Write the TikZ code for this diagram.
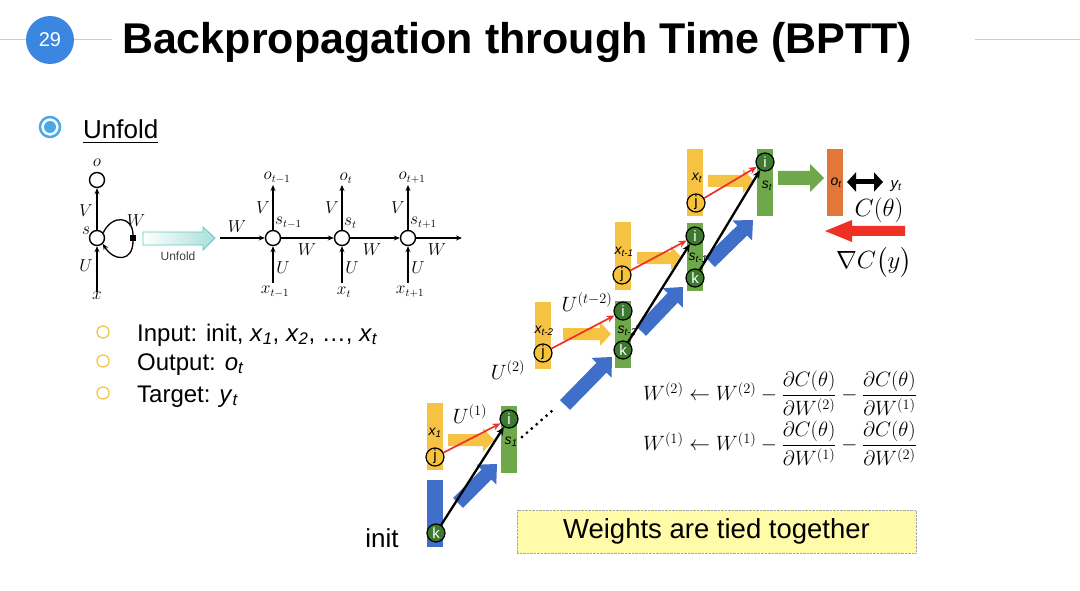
\documentclass[tikz,border=0pt]{standalone}
\usepackage{amsmath}
\usepackage{fontspec}
\setmainfont{Liberation Sans}
\usetikzlibrary{calc,arrows.meta}
\definecolor{cybar}{HTML}{F6C244}
\definecolor{cgbar}{HTML}{6FA84A}
\definecolor{cbbar}{HTML}{3F6FC9}
\definecolor{cobar}{HTML}{E2773A}
\definecolor{gcirc}{HTML}{3D7A2F}
\definecolor{ycirc}{HTML}{F5C23A}
\definecolor{numblue}{HTML}{3A86E0}
\definecolor{ringblue}{HTML}{4AA8E8}
\definecolor{arrred}{HTML}{EE3124}
\definecolor{unfteal}{HTML}{3FB8AE}
\definecolor{boxyellow}{HTML}{FFFBA8}
\newcommand\blockarrow[6]{%
  \fill[fill=#1] ($(#2)!#4!90:(#3)$) -- ($($(#3)!#6!(#2)$)!#4!90:(#3)$)
    -- ($($(#3)!#6!(#2)$)!#5!90:(#3)$) -- (#3)
    -- ($($(#3)!#6!(#2)$)!#5!-90:(#3)$) -- ($($(#3)!#6!(#2)$)!#4!-90:(#3)$)
    -- ($(#2)!#4!-90:(#3)$) -- cycle;}
\tikzset{
  bar/.style={minimum width=16, minimum height=67, inner sep=0, fill=#1},
  gnode/.style={circle, draw=black, line width=1.2pt, fill=gcirc, text=white,
    minimum size=18, inner sep=0, font=\fontsize{15}{15}\selectfont},
  ynode/.style={gnode, fill=ycirc, text=black},
  barlbl/.style={font=\fontsize{14}{14}\selectfont\itshape, inner sep=0},
  redarr/.style={draw=arrred, line width=1.7pt, -{Stealth[length=8,width=7]}},
  blkarr/.style={draw=black, line width=2.3pt, -{Stealth[length=8,width=7]}},
  rnn/.style={circle, draw=black, line width=1.4pt, minimum size=15, inner sep=0},
  rnnarr/.style={line width=1.3pt, -{Stealth[length=6,width=5]}},
  rl/.style={font=\fontsize{16}{16}\selectfont, inner sep=0},
  bullet/.style={circle, draw=ycirc, line width=1.2pt, minimum size=12, inner sep=0},
  btext/.style={anchor=base west, font=\fontsize{24}{24}\selectfont, inner sep=0},
}
\begin{document}
\begin{tikzpicture}[x=1pt,y=-1pt]
\useasboundingbox (0,0) rectangle (1080,591);
% header
\draw[black!20, line width=1pt] (0,40) -- (112,40) (975,40) -- (1080,40);
\node[circle, fill=numblue, minimum size=48, inner sep=0, text=white,
  font=\fontsize{20}{20}\selectfont] (num) at (50,40) {29};
\node[font=\fontsize{43}{43}\selectfont\bfseries] (title) at (517,42)
  {Backpropagation through Time (BPTT)};
% Unfold bullet
\node[circle, draw=ringblue, line width=2.5pt, minimum size=20, inner sep=0] (ub) at (50,127) {};
\node[circle, fill=ringblue, minimum size=12, inner sep=0] at (ub) {};
\node[anchor=base west, font=\fontsize{26}{26}\selectfont, inner sep=0] (unf) at (83,139) {\underline{Unfold}};
% small RNN diagram
\node[rnn] (so) at (97,180) {};
\node[rnn] (ss) at (97,238) {};
\node[rl] (ol) at (97,163) {$o$};
\node[rl] (xl) at (97,296) {$x$};
\draw[rnnarr] (ss) -- (so);
\draw[rnnarr] (xl) -- (ss);
\node[rl] at (86,211) {$V$};
\node[rl] at (86,266) {$U$};
\node[rl] at (86,231) {$s$};
\node[fill=black, minimum size=6, inner sep=0] (sq) at (133,238) {};
\draw[line width=1.3pt] (ss.40) .. controls (112,214) and (133,216) .. (sq.north);
\draw[rnnarr] (sq.south) .. controls (133,262) and (114,262) .. (ss.-45);
\node[rl] at (136,221) {$W$};
\shade[left color=white, right color=unfteal!45, draw=unfteal!80, line width=0.8pt]
  (143,232) -- (203,232) -- (203,227) -- (215,238) -- (203,250) -- (203,245) -- (143,245) -- cycle;
\node[font=\fontsize{12}{12}\selectfont, text=black!75] (unfl) at (178,256) {Unfold};
\coordinate (win) at (220,238);
\coordinate (wout) at (462,238);
\node[rnn] (n1) at (273,238) {};
\node[rnn] (n2) at (342,238) {};
\node[rnn] (n3) at (408,238) {};
\draw[rnnarr] (win) -- (n1);
\draw[rnnarr] (n1) -- (n2);
\draw[rnnarr] (n2) -- (n3);
\draw[rnnarr] (n3) -- (wout);
\node[rl] at (237,227) {$W$};
\node[rl] at (307,250) {$W$};
\node[rl] at (372,250) {$W$};
\node[rl] at (437,250) {$W$};
\foreach \n/\s/\lbl in {n1/{t-1}/1, n2/t/2, n3/{t+1}/3}{
  \node[rl] (o\lbl) at ($(\n)+(4,-60)$) {$o_{\s}$};
  \node[rl] (x\lbl) at ($(\n)+(2,54)$) {$x_{\s}$};
  \coordinate (ot\lbl) at ($(\n)+(0,-53)$);
  \coordinate (xb\lbl) at ($(\n)+(0,45)$);
  \draw[rnnarr] (\n) -- (ot\lbl);
  \draw[rnnarr] (xb\lbl) -- (\n);
  \node[rl] at ($(\n)+(-10,-30)$) {$V$};
  \node[rl] at ($(\n)+(10,30)$) {$U$};
  \node[rl, anchor=west] at ($(\n)+(2,-15)$) {$s_{\s}$};
}
% bullets
\node[bullet] (b1) at (103,332) {};
\node[bullet] (b2) at (103,361) {};
\node[bullet] (b3) at (103,393) {};
\node[btext] at (137,341) {Input: init, \textit{x}\textsubscript{\textit{1}}, \textit{x}\textsubscript{\textit{2}}, \dots, \textit{x}\textsubscript{\textit{t}}};
\node[btext] at (137,370) {Output: \textit{o}\textsubscript{\textit{t}}};
\node[btext] at (137,402) {Target: \textit{y}\textsubscript{\textit{t}}};
% block arrows coordinates
\coordinate (ya1s) at (448,440); \coordinate (ya1e) at (494,440);
\coordinate (ya2s) at (563,334); \coordinate (ya2e) at (611,334);
\coordinate (ya3s) at (637,258); \coordinate (ya3e) at (682,258);
\coordinate (ya4s) at (708,181); \coordinate (ya4e) at (754,181);
\coordinate (ba1s) at (458,503); \coordinate (ba1e) at (497,464);
\coordinate (ba2s) at (565,405); \coordinate (ba2e) at (612,357);
\coordinate (ba3s) at (641,331); \coordinate (ba3e) at (683,287);
\coordinate (ba4s) at (710,262); \coordinate (ba4e) at (753,220);
\coordinate (gas) at (778,178); \coordinate (gae) at (824,178);
\coordinate (ras) at (905,231); \coordinate (rae) at (825,231);
% bars
\node[bar=cybar] (yb1) at (435,436) {};
\node[bar=cbbar] (bb1) at (435,513) {};
\node[bar=cgbar] (gs1) at (509,439) {};
\node[bar=cybar] (yb2) at (543,335) {};
\node[bar=cgbar] (gs2) at (623,334) {};
\node[bar=cybar] (yb3) at (623,256) {};
\node[bar=cgbar] (gs3) at (695,257) {};
\node[bar=cybar] (yb4) at (695,183) {};
\node[bar=cgbar] (gs4) at (765,183) {};
\node[bar=cobar] (ob) at (835,183) {};
\blockarrow{cybar}{ya1s}{ya1e}{6pt}{12pt}{11pt}
\blockarrow{cybar}{ya2s}{ya2e}{6pt}{12pt}{11pt}
\blockarrow{cybar}{ya3s}{ya3e}{6pt}{12pt}{11pt}
\blockarrow{cybar}{ya4s}{ya4e}{6pt}{12pt}{11pt}
\blockarrow{cbbar}{ba1s}{ba1e}{7pt}{14pt}{15pt}
\blockarrow{cbbar}{ba2s}{ba2e}{7pt}{14pt}{15pt}
\blockarrow{cbbar}{ba3s}{ba3e}{7pt}{14pt}{15pt}
\blockarrow{cbbar}{ba4s}{ba4e}{7pt}{14pt}{15pt}
\blockarrow{cgbar}{gas}{gae}{7pt}{14pt}{14pt}
\blockarrow{arrred}{ras}{rae}{5pt}{11pt}{27pt}
% bar labels
\node[barlbl] at (435,433) {x\textsubscript{1}};
\node[barlbl] at (511,442) {s\textsubscript{1}};
\node[barlbl] at (544,331) {x\textsubscript{t-2}};
\node[barlbl] at (627,331) {s\textsubscript{t-2}};
\node[barlbl] at (624,252) {x\textsubscript{t-1}};
\node[barlbl] at (698,258) {s\textsubscript{t-1}};
\node[barlbl] at (697,178) {x\textsubscript{t}};
\node[barlbl] at (767,186) {s\textsubscript{t}};
\node[barlbl] at (836,183) {o\textsubscript{t}};
% circles
\node[ynode] (j1) at (435,457) {j};
\node[gnode] (k1) at (436,533) {k};
\node[gnode] (i1) at (509,419) {i};
\node[ynode] (j2) at (543,353) {j};
\node[gnode] (i2) at (623,311) {i};
\node[gnode] (k2) at (623,350) {k};
\node[ynode] (j3) at (622,275) {j};
\node[gnode] (i3) at (695,236) {i};
\node[gnode] (k3) at (695,278) {k};
\node[ynode] (j4) at (696,203) {j};
\node[gnode] (i4) at (765,162) {i};
% connectors
\draw[redarr] (j1) -- (i1);
\draw[redarr] (j2) -- (i2);
\draw[redarr] (j3) -- (i3);
\draw[redarr] (j4) -- (i4);
\draw[blkarr] (k1) -- (i1);
\draw[blkarr] (k2) -- (i3);
\draw[blkarr] (k3) -- (i4);
\coordinate (d1) at (522,437); \coordinate (d2) at (553,410);
\draw[line width=3.2pt, line cap=round, dash pattern=on 0pt off 6.5pt] (d1) -- (d2);
% output side
\coordinate (da) at (847,182); \coordinate (db) at (883,182);
\draw[line width=5pt, {Triangle[length=9,width=19]}-{Triangle[length=9,width=19]}] (da) -- (db);
\node[barlbl, font=\fontsize{15}{15}\selectfont\itshape] at (896,186) {y\textsubscript{t}};
\node[font=\fontsize{24}{24}\selectfont, inner sep=0] at (879,210) {$C(\theta)$};
\node[font=\fontsize{26}{26}\selectfont, inner sep=0] at (874,262) {$\nabla C\bigl(y\bigr)$};
% math labels
\node[font=\fontsize{20}{20}\selectfont, inner sep=0] at (470,414) {$U^{(1)}$};
\node[font=\fontsize{20}{20}\selectfont, inner sep=0] at (587,302) {$U^{(t-2)}$};
\node[font=\fontsize{20}{20}\selectfont, inner sep=0] at (508,370) {$U^{(2)}$};
\node[font=\fontsize{26}{26}\selectfont, inner sep=0] at (382,538) {init};
% equations
\node[font=\fontsize{21}{21}\selectfont, inner sep=0] (eq1) at (780,393)
  {$W^{(2)} \leftarrow W^{(2)} - \dfrac{\partial C(\theta)}{\partial W^{(2)}} - \dfrac{\partial C(\theta)}{\partial W^{(1)}}$};
\node[font=\fontsize{21}{21}\selectfont, inner sep=0] (eq2) at (780,443)
  {$W^{(1)} \leftarrow W^{(1)} - \dfrac{\partial C(\theta)}{\partial W^{(1)}} - \dfrac{\partial C(\theta)}{\partial W^{(2)}}$};
% tied box
\node[draw=black!35, densely dotted, fill=boxyellow, minimum width=399, minimum height=43,
  inner sep=0, font=\fontsize{27.5}{27.5}\selectfont] (tied) at (716.5,531.5) {Weights are tied together};
\end{tikzpicture}
\end{document}
